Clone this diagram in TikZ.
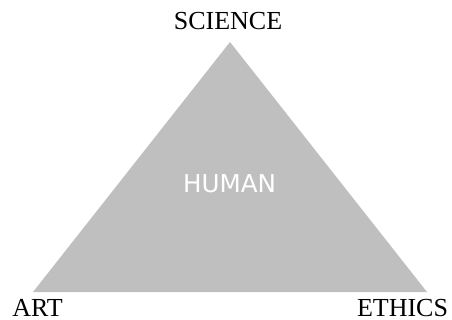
\documentclass[tikz,border=0pt]{standalone}
\usepackage{fontspec}
\setmainfont{Liberation Serif}
\newfontfamily\humanfont{DejaVu Sans}
\definecolor{trifill}{HTML}{BFBFBF}
\begin{document}
\begin{tikzpicture}[x=1pt,y=-1pt,
  corner/.style={font=\fontsize{26}{30}\selectfont, anchor=base, inner sep=0pt, text depth=0pt},
  centre/.style={font=\humanfont\fontsize{24.6}{28}\selectfont, text=white, inner sep=0pt}]
  \useasboundingbox (0,0) rectangle (452,320);
  % triangle corners
  \coordinate (top) at (230,42);
  \coordinate (left) at (33,292);
  \coordinate (right) at (427,292);
  \fill[trifill] (top) -- (left) -- (right) -- cycle;
  % labels
  \node[corner] (science) at (228,30) {SCIENCE};
  \node[corner] (art) at (37.5,316.5) {ART};
  \node[corner] (ethics) at (402.5,316.5) {ETHICS};
  \node[centre] (human) at (229.5,184) {HUMAN};
\end{tikzpicture}
\end{document}
